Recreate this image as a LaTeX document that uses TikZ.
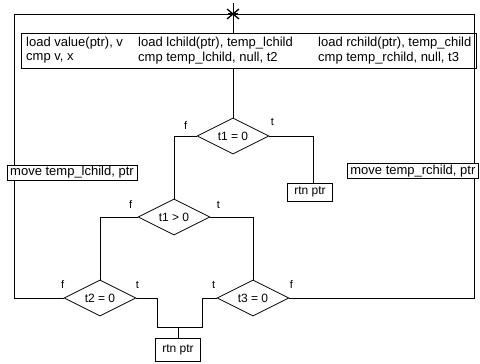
\documentclass[tikz,border=0pt]{standalone}
\usepackage{fontspec}
\setmainfont{Liberation Sans}
\usetikzlibrary{shapes.geometric,calc}
\begin{document}
\begin{tikzpicture}[x=1pt,y=-1pt,
  every node/.style={font=\fontsize{12}{14}\selectfont},
  ln/.style={line width=0.8pt},
  dec/.style={diamond,draw,line width=0.8pt,aspect=2,inner sep=0pt,minimum width=72pt,minimum height=36pt},
  rbox/.style={rectangle,draw,line width=0.8pt,inner sep=0pt,minimum width=45pt},
  txt/.style={anchor=west,inner sep=0pt,font=\fontsize{13}{15}\selectfont},
  mbox/.style={rectangle,draw,line width=0.8pt,inner sep=0pt,minimum height=15pt,font=\fontsize{13}{15}\selectfont},
  lbl/.style={inner sep=0pt,font=\fontsize{11}{13}\selectfont}]
\useasboundingbox (0,0) rectangle (480,364);
% coordinates
\coordinate (s) at (233,14);
\coordinate (lc) at (14,14);
\coordinate (rc) at (474,14);
\coordinate (jl) at (157,327);
\coordinate (jr) at (202,327);
\coordinate (j) at (178,327);
% top box
\node[rectangle,draw,line width=0.8pt,minimum width=455pt,minimum height=35pt,inner sep=0pt] (box) at (248.5,50.5) {};
\node[txt] (a1) at (26,43) {load value(ptr), v};
\node[txt] (a2) at (26,58) {cmp v, x};
\node[txt] (b1) at (138,43) {load lchild(ptr), temp\_lchild};
\node[txt] (b2) at (138,58) {cmp temp\_lchild, null, t2};
\node[txt] (c1) at (318,43) {load rchild(ptr), temp\_child};
\node[txt] (c2) at (318,58) {cmp temp\_rchild, null, t3};
% decisions
\node[dec] (d1) at (233,136) {t1 = 0};
\node[dec] (d2) at (174,217) {t1 > 0};
\node[dec] (d3) at (100,298) {t2 = 0};
\node[dec] (d4) at (253,298) {t3 = 0};
% boxes
\node[rbox,minimum height=18pt] (r1) at (310,192) {rtn ptr};
\node[rbox,minimum height=23pt] (r2) at (178,350) {rtn ptr};
\node[mbox,minimum width=130pt] (m1) at (72,172.5) {move temp\_lchild, ptr};
\node[mbox,anchor=west,inner xsep=3pt] (m2) at (347,171) {move temp\_rchild, ptr};
% labels
\node[lbl] (f1) at ([xshift=-11pt,yshift=10pt]d1.west) {f};
\node[lbl] (t1) at ([xshift=3pt,yshift=14pt]d1.east) {t};
\node[lbl] (f2) at ([xshift=-7pt,yshift=12pt]d2.west) {f};
\node[lbl] (t2) at ([xshift=8pt,yshift=12pt]d2.east) {t};
\node[lbl] (f3) at ([xshift=-1pt,yshift=13pt]d3.west) {f};
\node[lbl] (t3) at ([xshift=1pt,yshift=13pt]d3.east) {t};
\node[lbl] (t4) at ([xshift=-3pt,yshift=13pt]d4.west) {t};
\node[lbl] (f4) at ([xshift=2pt,yshift=13pt]d4.east) {f};
% connectors
\draw[ln] (s) -- (s |- box.north);
\draw[ln] (d1.north) -- (d1.north |- box.south);
\draw[ln] (d1.west) -| (d2.north);
\draw[ln] (d1.east) -| ([xshift=3pt]r1.north);
\draw[ln] (d2.west) -| (d3.north);
\draw[ln] (d2.east) -| (d4.north);
\draw[ln] (d3.west) -| (lc |- m1.south);
\draw[ln] (lc |- m1.north) -- (lc) -- (rc) -- (rc |- m2.north);
\draw[ln] (d4.east) -| (rc |- m2.south);
\draw[ln] (d3.east) -| (jl) -- (jr) |- (d4.west);
\draw[ln] (r2.north) -- (j);
% star
\draw[line width=1pt] ($(s)+(0,-11)$) -- (s);
\draw[line width=1.3pt] ($(s)+(-6,-5)$) -- ($(s)+(6,5)$);
\draw[line width=1.3pt] ($(s)+(-6,5)$) -- ($(s)+(6,-5)$);
\draw[line width=1.8pt] ($(s)+(-5,0)$) -- ($(s)+(5,0)$);
\end{tikzpicture}
\end{document}
